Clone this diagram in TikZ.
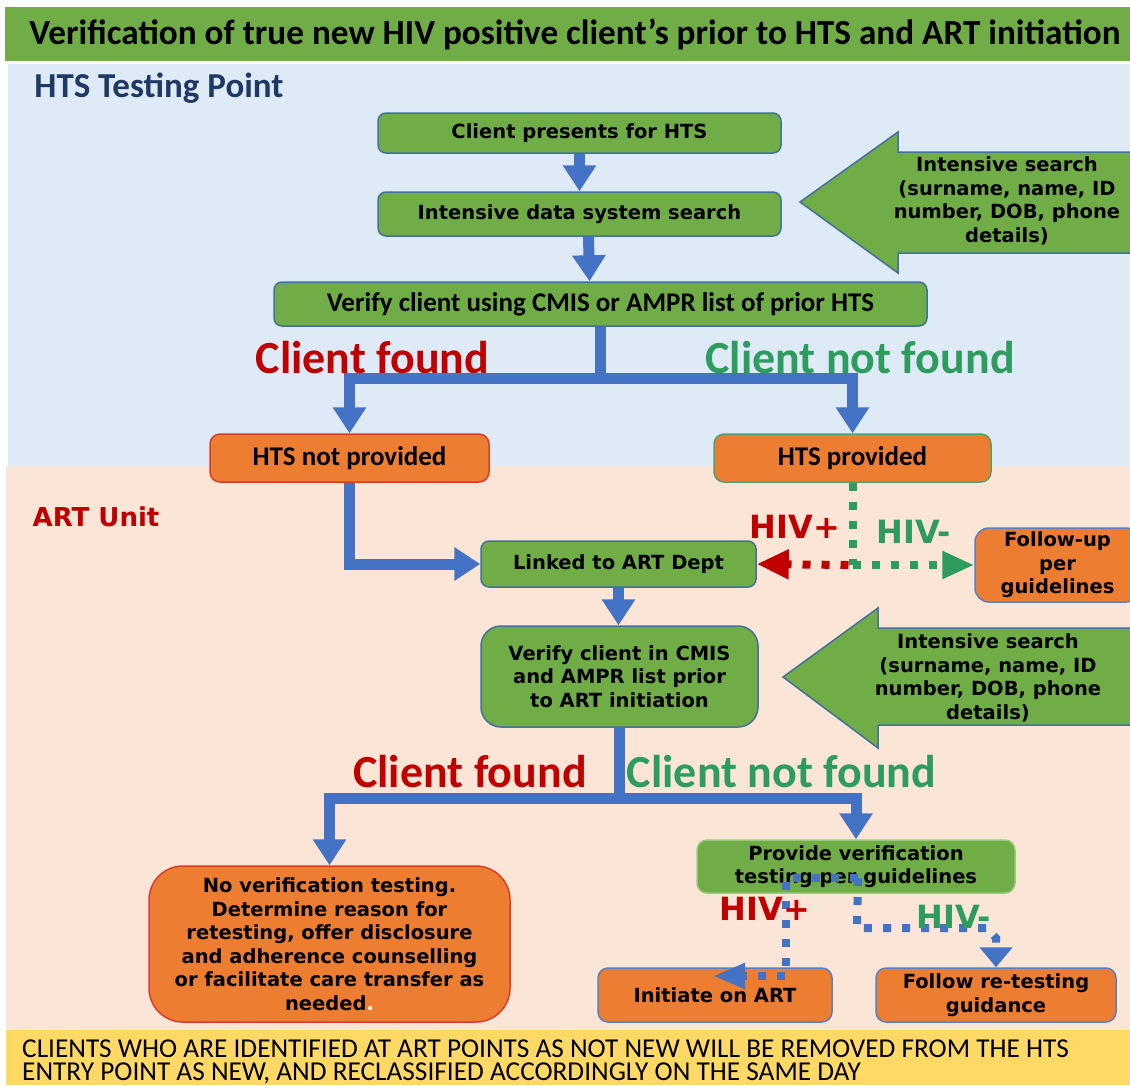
\documentclass[tikz,border=0pt]{standalone}
\usepackage{fontspec}
\setmainfont{DejaVu Sans}
\newfontfamily\calfont{Carlito}
\newfontfamily\verfont{DejaVu Sans}
\usetikzlibrary{arrows.meta}
\definecolor{tgreen}{HTML}{70AD47}
\definecolor{lblue}{HTML}{DEEBF7}
\definecolor{peach}{HTML}{FBE5D6}
\definecolor{yel}{HTML}{FFD966}
\definecolor{orng}{HTML}{ED7D31}
\definecolor{abl}{HTML}{4472C4}
\definecolor{bgray}{HTML}{41719C}
\definecolor{dred}{HTML}{C00000}
\definecolor{tgr}{HTML}{2E9B5F}
\definecolor{navy}{HTML}{1F3864}
\definecolor{redb}{HTML}{DD3B2A}
\definecolor{greenb}{HTML}{4FA36A}
\definecolor{lgreenb}{HTML}{9DC97E}
\definecolor{blueb}{HTML}{5B7FC0}
\tikzset{
  vtext/.style={font=\verfont\bfseries\fontsize{19.5}{23.5}\selectfont},
  ctext/.style={font=\calfont\bfseries\fontsize{27}{32}\selectfont},
  bx/.style={align=center, inner sep=0pt, line width=1.5pt, text=black},
  gbox/.style={bx, vtext, fill=tgreen, draw=bgray, rounded corners=8pt},
  obox/.style={bx, vtext, fill=orng, rounded corners=10pt},
  barr/.style={draw=abl, line width=11pt, -{Triangle[width=32pt,length=26pt]}},
  dotl/.style={line width=8pt, dash pattern=on 8pt off 11pt},
  bigga/.style={fill=tgreen, draw=bgray, line width=1.5pt},
  biglab/.style={font=\calfont\bfseries\fontsize{46}{50}\selectfont, inner sep=0pt},
  hivlab/.style={font=\verfont\bfseries\fontsize{32}{36}\selectfont, inner sep=0pt},
  notetext/.style={font=\calfont\fontsize{27.3}{30}\selectfont, anchor=base west, inner sep=0pt},
}
\begin{document}
\begin{tikzpicture}[x=1pt,y=-1pt]
\useasboundingbox (0,0) rectangle (1130,1085);
\clip (0,0) rectangle (1130,1085);
% backgrounds
\fill[white] (0,0) rectangle (1130,1085);
\fill[tgreen] (5,7) rectangle (1130,61);
\fill[lblue] (8,64) rectangle (1130,466);
\fill[peach] (6,466) rectangle (1130,1030);
\fill[yel] (6,1030) rectangle (1130,1085);

\node[font=\calfont\bfseries\fontsize{35.2}{40}\selectfont, inner sep=0pt] (title) at (575,34)
  {Verification of true new HIV positive client’s prior to HTS and ART initiation};
\node[font=\calfont\bfseries\fontsize{35}{40}\selectfont, text=navy, inner sep=0pt] (htsp) at (159,88) {HTS Testing Point};
\node[font=\verfont\bfseries\fontsize{26}{30}\selectfont, text=dred, inner sep=0pt] (artu) at (96,517) {ART Unit};

% big side arrows
\draw[bigga] (800,202) -- (898,132) -- (898,152) -- (1140,152) -- (1140,253) -- (898,253) -- (898,273) -- cycle;
\node[vtext, align=center, inner sep=0pt] (is1) at (1007,201)
  {Intensive search\\(surname, name, ID\\number, DOB, phone\\details)};
\draw[bigga] (783,677) -- (878,608) -- (878,628) -- (1140,628) -- (1140,725) -- (878,725) -- (878,748) -- cycle;
\node[vtext, align=center, inner sep=0pt] (is2) at (988,678)
  {Intensive search\\(surname, name, ID\\number, DOB, phone\\details)};

% boxes
\node[gbox, minimum width=403pt, minimum height=40pt] (n1) at (579.5,133) {Client presents for HTS};
\node[gbox, minimum width=403pt, minimum height=44pt] (n2) at (579.5,214) {Intensive data system search};
\node[gbox, ctext, minimum width=653pt, minimum height=44pt] (n3) at (600.5,304) {Verify client using CMIS or AMPR list of prior HTS};
\node[obox, ctext, draw=redb, minimum width=279pt, minimum height=48pt] (n4) at (349.5,458) {HTS not provided};
\node[obox, ctext, draw=greenb, minimum width=277pt, minimum height=48pt] (n5) at (852.5,458) {HTS provided};
\node[gbox, minimum width=275pt, minimum height=46pt] (n6) at (618.5,564) {Linked to ART Dept};
\node[obox, draw=blueb, rounded corners=14pt, minimum width=165pt, minimum height=74pt] (n7) at (1057.5,565) {Follow-up\\per\\guidelines};
\node[gbox, rounded corners=20pt, minimum width=277pt, minimum height=101pt] (n8) at (619.5,676.5)
  {Verify client in CMIS\\and AMPR list prior\\to ART initiation};
\node[obox, draw=redb, rounded corners=34pt, minimum width=361pt, minimum height=156pt] (n9) at (329.5,944)
  {No verification testing.\\Determine reason for\\retesting, offer disclosure\\and adherence counselling\\or facilitate care transfer as\\needed\textcolor{white}{.}};
\node[gbox, draw=lgreenb, rounded corners=10pt, minimum width=318pt, minimum height=53pt] (n10) at (856,866.5)
  {Provide verification\\testing per guidelines};
\node[obox, draw=blueb, minimum width=234pt, minimum height=54pt] (n11) at (715,995) {Initiate on ART};
\node[obox, draw=blueb, minimum width=240pt, minimum height=54pt] (n12) at (996,995) {Follow re-testing\\guidance};

% labels
\node[biglab, text=dred] (cf1) at (372.5,358) {Client found};
\node[biglab, text=tgr] (cn1) at (860,358) {Client not found};
\node[biglab, text=dred] (cf2) at (470,772) {Client found};
\node[biglab, text=tgr] (cn2) at (781.5,772) {Client not found};

% solid blue connectors
\draw[barr] (n1.south) -- (n2.north);
\draw[barr] ([xshift=9pt]n2.south) -- ([xshift=-11pt]n3.north);
\coordinate (b1) at (600.5,378);
\draw[barr] (n3.south) -- (b1) -| (n4.north);
\draw[barr] (b1) -| (n5.north);
\draw[barr] (n4.south) |- (n6.west);
\draw[barr] (n6.south) -- (n6.south |- n8.north);
\coordinate (b2) at (619.5,798);
\draw[barr] (n8.south) -- (b2) -| (n9.north);
\draw[barr] (b2) -| (n10.north);

% dotted HIV connectors from HTS provided
\coordinate (hs) at (852.5,565);
\draw[dotl, draw=tgr] (n5.south) -- (hs);
\draw[dotl, draw=tgr, -{Triangle[width=26pt,length=32pt]}] (hs) -- (n7.west);
\draw[dotl, draw=dred, -{Triangle[width=28pt,length=32pt]}] ([xshift=-4pt]hs) -- (n6.east);
\node[hivlab, text=dred] (hp1) at (795,527) {HIV+};
\node[hivlab, text=tgr] (hn1) at (914,532) {HIV-};

% dotted blue connectors from verification testing
\coordinate (vs) at (858,878);
\coordinate (iatip) at (713,976);
\coordinate (vneg) at (857,928);
\draw[dotl, draw=abl, -{Triangle[width=24pt,length=32pt]}] (vs) -- (786,878) -- (786,976) -- (iatip);
\draw[dotl, draw=abl, -{Triangle[width=32pt,length=20pt]}] (vs) -- (vneg) -- (987,928) -- (996,938) -- (n12.north -| 996,0);
\node[hivlab, text=dred] (hp2) at (765,909) {HIV+};
\node[hivlab, text=tgr] (hn2) at (954,917) {HIV-};

% bottom note
\node[notetext] (note1) at (22,1057)
  {CLIENTS WHO ARE IDENTIFIED AT ART POINTS AS NOT NEW WILL BE REMOVED FROM THE HTS};
\node[notetext] (note2) at (22,1080)
  {ENTRY POINT AS NEW, AND RECLASSIFIED ACCORDINGLY ON THE SAME DAY};
\end{tikzpicture}
\end{document}
